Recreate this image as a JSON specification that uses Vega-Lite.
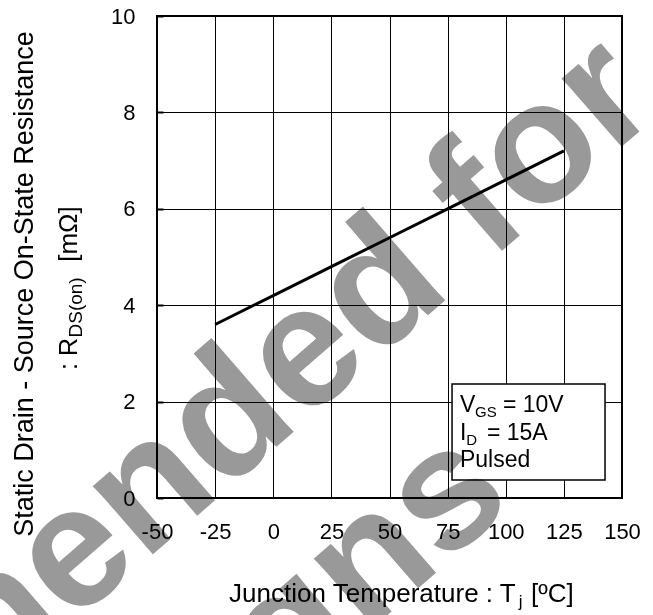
{
  "$schema": "https://vega.github.io/schema/vega-lite/v6.json",
  "autosize": {"type": "none"},
  "padding": {"left": 157, "top": 16, "right": 31, "bottom": 117},
  "width": 465,
  "height": 482,
  "background": "white",
  "config": {
    "view": {"stroke": "black", "strokeWidth": 2},
    "font": "Liberation Sans"
  },
  "datasets": {
    "rds": [
      {"t": -25, "r": 3.6},
      {"t": 0, "r": 4.2},
      {"t": 25, "r": 4.8},
      {"t": 50, "r": 5.4},
      {"t": 75, "r": 6.0},
      {"t": 100, "r": 6.6},
      {"t": 125, "r": 7.2}
    ],
    "one": [{"k": 1}]
  },
  "data": {"name": "one"},
  "layer": [
    {
      "mark": {"type": "rect", "fill": "white", "stroke": "black", "strokeWidth": 1.5},
      "encoding": {
        "x": {
          "datum": 76.9, "type": "quantitative",
          "scale": {"domain": [-50, 150], "nice": false, "zero": false},
          "axis": {
            "title": null,
            "values": [-50, -25, 0, 25, 50, 75, 100, 125, 150],
            "labelExpr": "datum.value",
            "domain": false,
            "ticks": false,
            "grid": true,
            "gridColor": "black",
            "gridWidth": 1,
            "gridOpacity": 1,
            "labelFont": "Liberation Sans",
            "labelFontSize": 22,
            "labelColor": "black",
            "labelPadding": 23,
            "labelFlush": false
          }
        },
        "x2": {"datum": 142.7},
        "y": {
          "datum": 2.365, "type": "quantitative",
          "scale": {"domain": [0, 10], "nice": false, "zero": false},
          "axis": {
            "title": null,
            "values": [0, 2, 4, 6, 8, 10],
            "labelExpr": "datum.value",
            "domain": false,
            "ticks": true,
            "tickSize": -6,
            "tickWidth": 2,
            "tickColor": "black",
            "grid": true,
            "gridColor": "black",
            "gridWidth": 1,
            "gridOpacity": 1,
            "labelFont": "Liberation Sans",
            "labelFontSize": 22,
            "labelColor": "black",
            "labelPadding": 28,
            "labelFlush": false
          }
        },
        "y2": {"datum": 0.373}
      }
    },
    {
      "mark": {"type": "text", "text": "Not Recommended for", "font": "Liberation Sans", "fontSize": 172, "fontWeight": "bold", "angle": -41, "align": "right", "baseline": "alphabetic", "fill": "#999999", "blend": "multiply"},
      "encoding": {"x": {"datum": 167.6, "type": "quantitative"}, "y": {"datum": 8.03, "type": "quantitative"}}
    },
    {
      "mark": {"type": "text", "text": "New Designs", "font": "Liberation Sans", "fontSize": 172, "fontWeight": "bold", "angle": -41, "align": "right", "baseline": "alphabetic", "fill": "#999999", "blend": "multiply"},
      "encoding": {"x": {"datum": 104.5, "type": "quantitative"}, "y": {"datum": -0.104, "type": "quantitative"}}
    },
    {
      "mark": {"type": "text", "text": "V", "font": "Liberation Sans", "fontWeight": "normal", "fill": "black", "fontSize": 23, "align": "left", "baseline": "alphabetic"},
      "encoding": {"x": {"datum": 80.3, "type": "quantitative"}, "y": {"datum": 1.784, "type": "quantitative"}}
    },
    {
      "mark": {"type": "text", "text": "GS", "font": "Liberation Sans", "fontWeight": "normal", "fill": "black", "fontSize": 15, "align": "left", "baseline": "alphabetic"},
      "encoding": {"x": {"datum": 86.8, "type": "quantitative"}, "y": {"datum": 1.68, "type": "quantitative"}}
    },
    {
      "mark": {"type": "text", "text": "= 10V", "font": "Liberation Sans", "fontWeight": "normal", "fill": "black", "fontSize": 23, "align": "left", "baseline": "alphabetic"},
      "encoding": {"x": {"datum": 98.8, "type": "quantitative"}, "y": {"datum": 1.784, "type": "quantitative"}}
    },
    {
      "mark": {"type": "text", "text": "I", "font": "Liberation Sans", "fontWeight": "normal", "fill": "black", "fontSize": 23, "align": "left", "baseline": "alphabetic"},
      "encoding": {"x": {"datum": 80.3, "type": "quantitative"}, "y": {"datum": 1.203, "type": "quantitative"}}
    },
    {
      "mark": {"type": "text", "text": "D", "font": "Liberation Sans", "fontWeight": "normal", "fill": "black", "fontSize": 15, "align": "left", "baseline": "alphabetic"},
      "encoding": {"x": {"datum": 83.0, "type": "quantitative"}, "y": {"datum": 1.10, "type": "quantitative"}}
    },
    {
      "mark": {"type": "text", "text": "= 15A", "font": "Liberation Sans", "fontWeight": "normal", "fill": "black", "fontSize": 23, "align": "left", "baseline": "alphabetic"},
      "encoding": {"x": {"datum": 91.9, "type": "quantitative"}, "y": {"datum": 1.203, "type": "quantitative"}}
    },
    {
      "mark": {"type": "text", "text": "Pulsed", "font": "Liberation Sans", "fontWeight": "normal", "fill": "black", "fontSize": 23, "align": "left", "baseline": "alphabetic"},
      "encoding": {"x": {"datum": 80.3, "type": "quantitative"}, "y": {"datum": 0.643, "type": "quantitative"}}
    },
    {
      "mark": {"type": "text", "text": "Junction Temperature : T", "font": "Liberation Sans", "fontWeight": "normal", "fill": "black", "fontSize": 26, "align": "left", "baseline": "alphabetic"},
      "encoding": {"x": {"datum": -19.0, "type": "quantitative"}, "y": {"datum": -2.158, "type": "quantitative"}}
    },
    {
      "mark": {"type": "text", "text": "j", "font": "Liberation Sans", "fontWeight": "normal", "fill": "black", "fontSize": 17, "align": "left", "baseline": "alphabetic"},
      "encoding": {"x": {"datum": 105.6, "type": "quantitative"}, "y": {"datum": -2.261, "type": "quantitative"}}
    },
    {
      "mark": {"type": "text", "text": "[ºC]", "font": "Liberation Sans", "fontWeight": "normal", "fill": "black", "fontSize": 26, "align": "left", "baseline": "alphabetic"},
      "encoding": {"x": {"datum": 110.9, "type": "quantitative"}, "y": {"datum": -2.158, "type": "quantitative"}}
    },
    {
      "mark": {"type": "text", "text": "Static Drain - Source On-State Resistance", "font": "Liberation Sans", "fontWeight": "normal", "fill": "black", "fontSize": 27, "angle": -90, "align": "center", "baseline": "alphabetic"},
      "encoding": {"x": {"datum": -103.3, "type": "quantitative"}, "y": {"datum": 4.44, "type": "quantitative"}}
    },
    {
      "mark": {"type": "text", "text": ": R", "font": "Liberation Sans", "fontWeight": "normal", "fill": "black", "fontSize": 25, "angle": -90, "align": "left", "baseline": "alphabetic"},
      "encoding": {"x": {"datum": -84.4, "type": "quantitative"}, "y": {"datum": 2.656, "type": "quantitative"}}
    },
    {
      "mark": {"type": "text", "text": "DS(on)", "font": "Liberation Sans", "fontWeight": "normal", "fill": "black", "fontSize": 19, "angle": -90, "align": "left", "baseline": "alphabetic"},
      "encoding": {"x": {"datum": -82.26, "type": "quantitative"}, "y": {"datum": 3.33, "type": "quantitative"}}
    },
    {
      "mark": {"type": "text", "text": "[mΩ]", "font": "Liberation Sans", "fontWeight": "normal", "fill": "black", "fontSize": 26, "angle": -90, "align": "left", "baseline": "alphabetic"},
      "encoding": {"x": {"datum": -84.4, "type": "quantitative"}, "y": {"datum": 4.90, "type": "quantitative"}}
    },
    {
      "data": {"name": "rds"},
      "mark": {"type": "line", "color": "black", "strokeWidth": 3},
      "encoding": {
        "x": {"field": "t", "type": "quantitative"},
        "y": {"field": "r", "type": "quantitative"}
      }
    }
  ]
}
